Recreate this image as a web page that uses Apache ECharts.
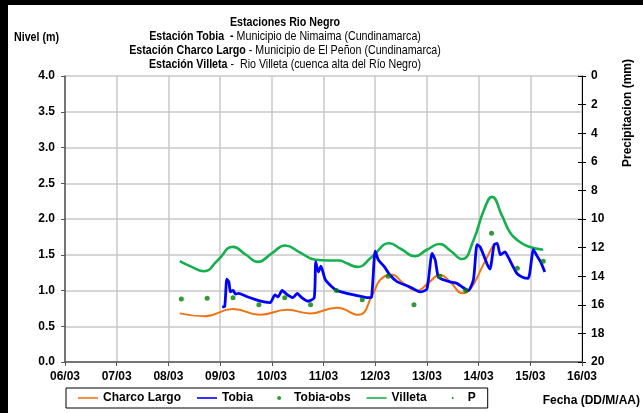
<!DOCTYPE html>
<html lang="es">
<head>
<meta charset="UTF-8">
<title>Estaciones Rio Negro</title>
<script src="https://cdn.jsdelivr.net/npm/echarts@6/dist/echarts.min.js"></script>
<style>
  html, body { margin: 0; padding: 0; background: #fff; }
  #main { width: 643px; height: 413px; }
</style>
</head>
<body>
<div id="main"></div>
<script>
// days as decimal day of March
var dayTicks = [6, 7, 8, 9, 10, 11, 12, 13, 14, 15, 16];
var nivelTicks = [0, 0.5, 1, 1.5, 2, 2.5, 3, 3.5, 4];
var precTicks = [0, 2, 4, 6, 8, 10, 12, 14, 16, 18, 20];

var charcoDays = [8.22, 8.7, 9.25, 9.77, 10.3, 10.74, 11.26, 11.67, 11.96, 12.1, 12.32, 12.55, 12.8, 13.05, 13.25, 13.45, 13.7, 13.85, 14.07, 14.27];
var charcoLevel = [0.68, 0.64, 0.74, 0.66, 0.73, 0.68, 0.76, 0.66, 0.96, 1.15, 1.22, 1.1, 1.0, 1.12, 1.22, 1.12, 0.96, 1.03, 1.33, 1.62];

var tobiaDays = [9.04, 9.09, 9.13, 9.17, 9.2, 9.25, 9.3, 9.36, 9.5, 9.7, 9.85, 9.97, 10.06, 10.12, 10.2, 10.3, 10.41, 10.49, 10.58, 10.7, 10.82, 10.85, 10.9, 10.95, 11.03, 11.15, 11.26, 11.45, 11.7, 11.86, 11.93, 12.0, 12.06, 12.18, 12.28, 12.43, 12.67, 12.87, 13.0, 13.1, 13.16, 13.22, 13.32, 13.45, 13.58, 13.68, 13.8, 13.9, 13.97, 14.03, 14.17, 14.22, 14.3, 14.36, 14.42, 14.51, 14.57, 14.74, 14.84, 14.96, 15.06, 15.14, 15.2, 15.28];
var tobiaLevel = [0.77, 0.78, 1.16, 1.12, 0.98, 1.0, 0.95, 0.96, 0.92, 0.87, 0.84, 0.83, 0.94, 0.91, 1.0, 0.94, 0.9, 0.96, 0.9, 0.85, 0.9, 1.40, 1.26, 1.34, 1.16, 1.06, 1.0, 0.96, 0.92, 0.9, 0.91, 1.55, 1.43, 1.33, 1.22, 1.12, 1.05, 0.98, 1.02, 1.52, 1.43, 1.19, 1.15, 1.12, 1.1, 1.05, 1.0, 1.15, 1.64, 1.61, 1.36, 1.3, 1.64, 1.66, 1.5, 1.54, 1.47, 1.24, 1.19, 1.17, 1.57, 1.47, 1.4, 1.26];

var obsDays = [8.25, 8.75, 9.25, 9.75, 10.25, 10.75, 11.25, 11.75, 12.25, 12.75, 13.25, 13.75, 14.25, 14.75, 15.25];
var obsLevel = [0.88, 0.89, 0.9, 0.8, 0.9, 0.8, 1.0, 0.87, 1.2, 0.8, 1.2, 1.0, 1.8, 1.31, 1.41];

var villetaDays = [8.22, 8.45, 8.69, 8.95, 9.25, 9.5, 9.73, 10.0, 10.26, 10.55, 10.84, 11.1, 11.3, 11.45, 11.65, 11.95, 12.27, 12.5, 12.77, 13.0, 13.25, 13.45, 13.68, 13.9, 14.1, 14.26, 14.45, 14.6, 14.74, 14.95, 15.25];
var villetaLevel = [1.41, 1.33, 1.27, 1.42, 1.61, 1.5, 1.40, 1.52, 1.63, 1.53, 1.43, 1.42, 1.42, 1.38, 1.33, 1.48, 1.66, 1.58, 1.48, 1.57, 1.65, 1.56, 1.44, 1.70, 2.12, 2.31, 2.05, 1.82, 1.71, 1.62, 1.57];

var precDays = [];
var precMm = [];

function zip(a, b) {
  return a.map(function (v, i) { return [v, b[i]]; });
}

var FONT = '"Liberation Sans Narrow", "Arial Narrow", "Liberation Sans", Arial, sans-serif';
var NARROW = 0.82; // squeeze Liberation Sans to look like Arial Narrow
var lineIcon = 'path://M0,0M20,10M0,4.2L20,4.2L20,5.8L0,5.8Z';
var dotIcon = 'path://M0,0M20,10M8,5a2,2 0 1,0 4,0a2,2 0 1,0 -4,0z';
var smallDotIcon = 'path://M0,0M20,10M9,5a1,1 0 1,0 2,0a1,1 0 1,0 -2,0z';

var titleRich = {
  b: { fontFamily: FONT, fontWeight: 'bold', fontSize: 13, fill: '#000' },
  n: { fontFamily: FONT, fontSize: 13, fill: '#000' }
};

function titleLine(y, text) {
  return {
    type: 'text', x: 285, y: y, scaleX: NARROW,
    style: { text: text, align: 'center', verticalAlign: 'middle', rich: titleRich }
  };
}

var chart = echarts.init(document.getElementById('main'));

var option = {
  animation: false,
  backgroundColor: '#fff',
  textStyle: { fontFamily: FONT },
  grid: { left: 65, right: 61, top: 76, bottom: 51 },
  legend: {
    left: 66, top: 388,
    padding: [4, 12, 4, 12],
    itemGap: 16,
    itemWidth: 20, itemHeight: 10,
    borderColor: '#000', borderWidth: 1,
    textStyle: { fontFamily: FONT, fontWeight: 'bold', fontSize: 12, color: '#000' },
    data: [
      { name: 'Charco Largo', icon: lineIcon },
      { name: 'Tobia', icon: lineIcon },
      { name: 'Tobia-obs', icon: dotIcon },
      { name: 'Villeta', icon: lineIcon },
      { name: 'P', icon: smallDotIcon }
    ]
  },
  xAxis: {
    type: 'value',
    min: dayTicks[0], max: dayTicks[dayTicks.length - 1], interval: 1,
    axisLine: { lineStyle: { color: '#555', width: 1.5 } },
    axisTick: { show: true, length: 4, lineStyle: { color: '#555' } },
    splitLine: { show: true, lineStyle: { color: '#c8c8c8', width: 1.5 } },
    axisLabel: {
      color: '#000', fontWeight: 'bold', fontSize: 12, fontFamily: FONT, margin: 9,
      formatter: function (v) { return (v < 10 ? '0' : '') + v + '/03'; }
    }
  },
  yAxis: [
    {
      type: 'value', position: 'left',
      min: nivelTicks[0], max: nivelTicks[nivelTicks.length - 1], interval: 0.5,
      axisLine: { show: true, lineStyle: { color: '#555', width: 1.5 } },
      axisTick: { show: true, length: 4, lineStyle: { color: '#555' } },
      splitLine: { show: true, lineStyle: { color: '#c8c8c8', width: 1.5 } },
      axisLabel: {
        color: '#000', fontWeight: 'bold', fontSize: 12, fontFamily: FONT, margin: 10,
        formatter: function (v) { return v.toFixed(1); }
      }
    },
    {
      type: 'value', position: 'right', inverse: true,
      min: precTicks[0], max: precTicks[precTicks.length - 1], interval: 2,
      axisLine: { show: true, lineStyle: { color: '#000', width: 1 } },
      axisTick: { show: true, length: 4, lineStyle: { color: '#000' } },
      splitLine: { show: false },
      axisLabel: { color: '#000', fontWeight: 'bold', fontSize: 12, fontFamily: FONT, margin: 9 }
    },
    {
      type: 'value', position: 'right', inverse: true,
      min: precTicks[0], max: precTicks[precTicks.length - 1], interval: 2,
      axisLine: { show: false },
      axisTick: { show: true, inside: true, length: 4, lineStyle: { color: '#000' } },
      splitLine: { show: false },
      axisLabel: { show: false }
    }
  ],
  series: [
    {
      name: 'Charco Largo', type: 'line', yAxisIndex: 0,
      data: zip(charcoDays, charcoLevel),
      smooth: 0.5, showSymbol: false, z: 2,
      itemStyle: { color: '#f07414' },
      lineStyle: { color: '#f07414', width: 2 }
    },
    {
      name: 'Villeta', type: 'line', yAxisIndex: 0,
      data: zip(villetaDays, villetaLevel),
      smooth: 0.5, showSymbol: false, z: 3,
      itemStyle: { color: '#14b04e' },
      lineStyle: { color: '#14b04e', width: 2.6 }
    },
    {
      name: 'Tobia', type: 'line', yAxisIndex: 0,
      data: zip(tobiaDays, tobiaLevel),
      smooth: 0.2, showSymbol: false, z: 4,
      itemStyle: { color: '#0000ff' },
      lineStyle: { color: '#0000ff', width: 2.8 }
    },
    {
      name: 'Tobia-obs', type: 'scatter', yAxisIndex: 0,
      data: zip(obsDays, obsLevel),
      symbolSize: 5, z: 5,
      itemStyle: { color: '#008000' }
    },
    {
      name: 'P', type: 'scatter', yAxisIndex: 1,
      data: zip(precDays, precMm),
      symbolSize: 3, z: 5,
      itemStyle: { color: '#006400' }
    }
  ],
  graphic: [
    { type: 'rect', shape: { x: 0, y: 0, width: 8, height: 413 }, style: { fill: '#000' }, z: 100 },
    { type: 'rect', shape: { x: 0, y: 0, width: 643, height: 5 }, style: { fill: '#000' }, z: 100 },
    titleLine(22, '{b|Estaciones Rio Negro}'),
    titleLine(36, '{b|Estación Tobia  - }{n|Municipio de Nimaima (Cundinamarca)}'),
    titleLine(50, '{b|Estación Charco Largo}{n| - Municipio de El Peñon (Cundinamarca)}'),
    titleLine(64, '{b|Estación Villeta}{n| -  Rio Villeta (cuenca alta del Río Negro)}'),
    {
      type: 'text', x: 14, y: 37, scaleX: NARROW,
      style: { text: 'Nivel (m)', font: 'bold 13px ' + FONT, fill: '#000', align: 'left', verticalAlign: 'middle' }
    },
    {
      type: 'text', x: 628, y: 113, rotation: Math.PI / 2,
      style: { text: 'Precipitacion (mm)', font: 'bold 12px ' + FONT, fill: '#000', align: 'center', verticalAlign: 'middle' }
    },
    {
      type: 'text', x: 640, y: 401,
      style: { text: 'Fecha (DD/M/AA)', font: 'bold 12px ' + FONT, fill: '#000', align: 'right', verticalAlign: 'middle' }
    }
  ]
};

chart.setOption(option);
</script>
</body>
</html>
